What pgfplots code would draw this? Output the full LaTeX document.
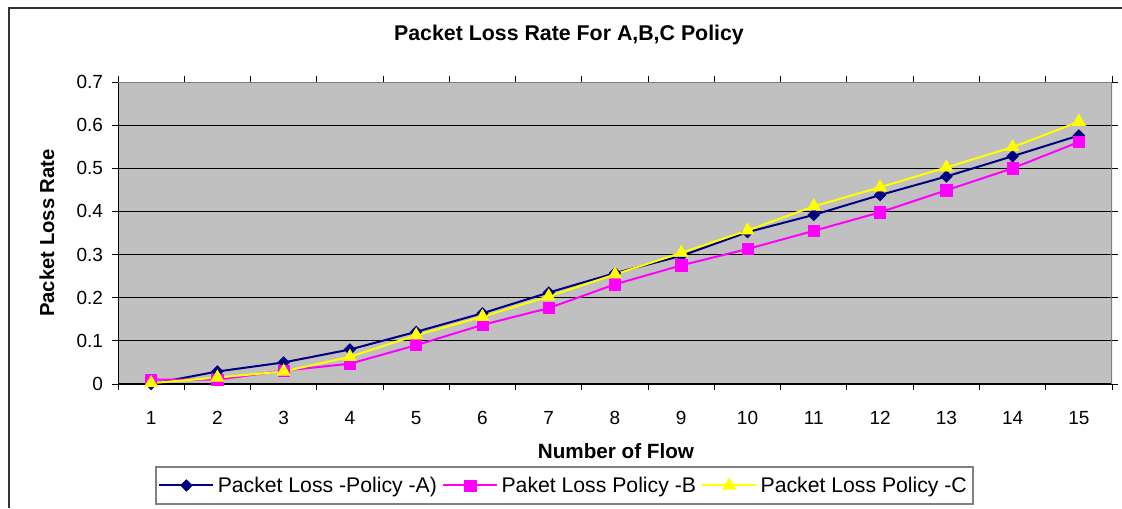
\documentclass[border=0pt]{standalone}
\usepackage{fontspec}
\setmainfont{Liberation Sans}
\usepackage{pgfplots}
\usepackage{pgfplotstable}
\pgfplotsset{compat=1.18}

\definecolor{plotgray}{HTML}{C0C0C0}
\definecolor{edgegray}{HTML}{808080}
\definecolor{navyA}{HTML}{000080}
\definecolor{magB}{HTML}{FF00FF}
\definecolor{yelC}{HTML}{FFFF00}

% packet loss rate per number of flows, one column per policy
\pgfplotstableread{
flow A     B     C
1    0.000 0.010 0.002
2    0.029 0.010 0.015
3    0.050 0.031 0.029
4    0.080 0.047 0.063
5    0.121 0.090 0.113
6    0.164 0.137 0.156
7    0.212 0.176 0.203
8    0.257 0.231 0.254
9    0.297 0.275 0.304
10   0.352 0.313 0.356
11   0.392 0.355 0.412
12   0.438 0.398 0.456
13   0.481 0.449 0.502
14   0.528 0.500 0.549
15   0.576 0.561 0.608
}\losstable

\begin{document}
\begin{tikzpicture}[x=0.75pt,y=0.75pt]
\path[use as bounding box] (0,0) rectangle (1122,508);
% chart frame
\draw[line width=1.1pt, black!80] (9,0) -- (9,500) -- (1122,500);
% title and axis titles
\node[font=\bfseries\fontsize{16}{19}\selectfont] at (569,473) {Packet Loss Rate For A,B,C Policy};
\node[font=\bfseries\fontsize{15.5}{18}\selectfont] at (616,57) {Number of Flow};
\node[font=\bfseries\fontsize{15.2}{18}\selectfont, rotate=90] at (47,275) {Packet Loss Rate};

\begin{axis}[
  at={(88.5pt,93pt)}, anchor=south west,
  width=745.5pt, height=226.5pt, scale only axis,
  xmin=0.5, xmax=15.5, ymin=0, ymax=0.7,
  xtick={1,2,...,15},
  xticklabels={1,2,3,4,5,6,7,8,9,10,11,12,13,14,15},
  minor xtick={0.5,1.5,...,15.5},
  major x tick style={draw=none},
  xticklabel style={yshift=-13pt},
  ytick={0,0.1,0.2,0.3,0.4,0.5,0.6,0.7},
  yticklabels={0,0.1,0.2,0.3,0.4,0.5,0.6,0.7},
  yticklabel style={xshift=-3.5pt},
  tick align=outside,
  major tick length=4.2pt,
  minor tick length=4.5pt,
  tick style={black, line width=0.75pt},
  ymajorgrids,
  major grid style={black, line width=0.7pt},
  axis line style={draw=none},
  axis background/.style={fill=plotgray},
  ticklabel style={font=\fontsize{14.25}{17}\selectfont},
  legend style={at={(0.449,-0.336)}, anchor=center, draw=edgegray,
    line width=1.1pt, fill=white, legend columns=3,
    font=\fontsize{15.9}{19}\selectfont,
    inner xsep=2pt, inner ysep=5.5pt,
    nodes={inner xsep=2.5pt},
    /tikz/every even column/.append style={column sep=1.5pt}},
  legend cell align=left,
  legend image code/.code={\draw[mark repeat=2,mark phase=2,#1]
    plot coordinates {(0pt,0pt) (20.25pt,0pt) (40.5pt,0pt)};},
]
% black axis lines on the left and bottom, under the series
\draw[black, line width=1.1pt] (rel axis cs:0,1) -- (rel axis cs:0,0) -- (rel axis cs:1,0);

\addplot[navyA, line width=1.5pt, mark=diamond*, mark size=4.3pt,
  mark options={fill=navyA, line width=0.5pt, xscale=1.33}] table[x=flow, y=A] {\losstable};
\addlegendentry{Packet Loss -Policy -A)}
\addplot[magB, line width=1.5pt, mark=square*, mark size=4.2pt,
  mark options={fill=magB, line width=0.5pt}] table[x=flow, y=B] {\losstable};
\addlegendentry{Paket Loss Policy -B}
\addplot[yelC, line width=1.5pt, mark=triangle*, mark size=5.6pt,
  mark options={fill=yelC, line width=0.5pt}] table[x=flow, y=C] {\losstable};
\addlegendentry{Packet Loss Policy -C}

% grey border on the top and right of the plot area
\draw[edgegray, line width=1.1pt] (rel axis cs:0,1) -- (rel axis cs:1,1) -- (rel axis cs:1,0);
\end{axis}
\end{tikzpicture}
\end{document}
